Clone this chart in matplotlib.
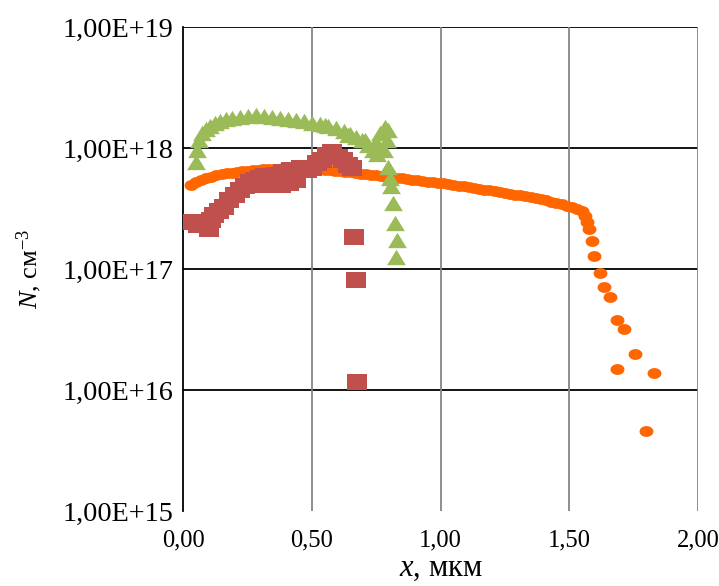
import numpy as np
import matplotlib
matplotlib.use("Agg")
import matplotlib.pyplot as plt
import matplotlib.path as mpath
from matplotlib.ticker import FixedLocator, FuncFormatter, NullLocator

plt.rcParams['font.family'] = ['Liberation Serif', 'DejaVu Serif']
plt.rcParams['mathtext.fontset'] = 'custom'
plt.rcParams['mathtext.rm'] = 'Liberation Serif'
plt.rcParams['mathtext.it'] = 'Liberation Serif:italic'

# ---- profile data: depth x (um), concentration N (cm^-3) ----
orange_x = [0.03, 0.05, 0.07, 0.09, 0.11, 0.13, 0.15, 0.17, 0.19, 0.21,
            0.23, 0.25, 0.27, 0.29, 0.31, 0.33, 0.35, 0.37, 0.39, 0.41,
            0.43, 0.45, 0.47, 0.49, 0.51, 0.53, 0.55, 0.57, 0.59, 0.61,
            0.63, 0.65, 0.67, 0.69, 0.71, 0.73, 0.75, 0.77, 0.79, 0.81,
            0.83, 0.85, 0.87, 0.89, 0.91, 0.93, 0.95, 0.97, 0.99, 1.01,
            1.03, 1.05, 1.07, 1.09, 1.11, 1.13, 1.15, 1.17, 1.19, 1.21,
            1.23, 1.25, 1.27, 1.29, 1.31, 1.33, 1.35, 1.37, 1.39, 1.41,
            1.43, 1.45, 1.47, 1.49, 1.51, 1.53, 1.55, 1.56, 1.57,
            1.575, 1.589, 1.597, 1.62, 1.636, 1.659, 1.686, 1.713, 1.756,
            1.686, 1.829, 1.798]
orange_n = [4.90e17, 5.19e17, 5.43e17, 5.62e17, 5.78e17, 5.93e17, 6.05e17, 6.17e17, 6.27e17, 6.35e17,
            6.43e17, 6.49e17, 6.55e17, 6.61e17, 6.65e17, 6.70e17, 6.73e17, 6.76e17, 6.78e17, 6.79e17,
            6.79e17, 6.78e17, 6.76e17, 6.73e17, 6.70e17, 6.65e17, 6.61e17, 6.55e17, 6.49e17, 6.43e17,
            6.35e17, 6.28e17, 6.21e17, 6.14e17, 6.07e17, 6.00e17, 5.93e17, 5.86e17, 5.79e17, 5.73e17,
            5.66e17, 5.60e17, 5.53e17, 5.47e17, 5.41e17, 5.35e17, 5.28e17, 5.22e17, 5.16e17, 5.09e17,
            5.02e17, 4.95e17, 4.89e17, 4.82e17, 4.75e17, 4.68e17, 4.60e17, 4.53e17, 4.46e17, 4.39e17,
            4.32e17, 4.25e17, 4.18e17, 4.11e17, 4.05e17, 3.98e17, 3.91e17, 3.84e17, 3.77e17, 3.69e17,
            3.61e17, 3.53e17, 3.44e17, 3.34e17, 3.24e17, 3.13e17, 2.99e17, 2.75e17, 2.45e17,
            2.14e17, 1.70e17, 1.28e17, 9.3e16, 7.1e16, 5.9e16, 3.8e16, 3.2e16, 2.0e16,
            1.5e16, 1.38e16, 4.6e15]

red_x = [0.04, 0.06, 0.08, 0.10, 0.11, 0.12, 0.14, 0.16, 0.18, 0.20,
         0.22, 0.24, 0.26, 0.28, 0.30, 0.31, 0.32, 0.34, 0.35, 0.36,
         0.38, 0.39, 0.41, 0.42, 0.44, 0.46, 0.48, 0.50, 0.52, 0.54,
         0.56, 0.58, 0.60, 0.62, 0.64, 0.655, 0.663, 0.671, 0.674]
red_n = [2.44e17, 2.30e17, 2.38e17, 2.14e17, 2.55e17, 2.79e17, 3.00e17, 3.25e17, 3.71e17, 4.09e17,
         4.50e17, 4.86e17, 5.24e17, 5.44e17, 5.65e17, 4.90e17, 5.87e17, 5.76e17, 4.90e17, 5.98e17,
         4.95e17, 6.34e17, 5.10e17, 6.58e17, 5.40e17, 6.84e17, 6.58e17, 6.84e17, 7.52e17, 7.96e17,
         8.76e17, 9.27e17, 8.43e17, 7.96e17, 7.24e17, 6.84e17, 1.84e17, 8.1e16, 1.16e16]

green_x = [0.050, 0.055, 0.062, 0.074, 0.090, 0.105, 0.124, 0.143, 0.167, 0.190,
           0.220, 0.252, 0.283, 0.314, 0.345, 0.376, 0.407, 0.438, 0.469, 0.500,
           0.531, 0.562, 0.593, 0.624, 0.647, 0.671, 0.694, 0.717, 0.736, 0.748,
           0.764, 0.783, 0.798, 0.791, 0.779, 0.795, 0.802, 0.806, 0.814, 0.822,
           0.833, 0.829, 0.55, 0.64, 0.705, 0.755]
green_n = [7.65e17, 9.62e17, 1.16e18, 1.33e18, 1.44e18, 1.52e18, 1.61e18, 1.67e18, 1.74e18, 1.77e18,
           1.80e18, 1.84e18, 1.86e18, 1.84e18, 1.80e18, 1.77e18, 1.74e18, 1.70e18, 1.67e18, 1.61e18,
           1.58e18, 1.52e18, 1.46e18, 1.38e18, 1.31e18, 1.23e18, 1.16e18, 1.06e18, 9.6e17, 1.12e18,
           1.33e18, 1.49e18, 1.41e18, 1.16e18, 9.6e17, 6.97e17, 5.65e17, 4.86e17, 3.51e17, 2.40e17,
           1.74e17, 1.26e17, 1.55e18, 1.28e18, 1.16e18, 9.0e17]

x_ticks = [0.0, 0.5, 1.0, 1.5, 2.0]
y_ticks = [1e15, 1e16, 1e17, 1e18, 1e19]

# ---- marker shapes ----
t = np.linspace(0, 2 * np.pi, 40)
ellipse_marker = mpath.Path(np.column_stack([np.cos(t), 0.78 * np.sin(t)]))
square_marker = mpath.Path([(-1, -0.82), (1, -0.82), (1, 0.82), (-1, 0.82), (-1, -0.82)], closed=True)
triangle_marker = mpath.Path([(0, 0.82), (-1, -0.82), (1, -0.82), (0, 0.82)], closed=True)

fig = plt.figure(figsize=(7.19, 5.86), dpi=100)
ax = fig.add_axes([183 / 719, 1 - 511 / 586, (698 - 183) / 719, (511 - 27) / 586])

ax.plot(orange_x, orange_n, linestyle='none', marker=ellipse_marker, markersize=10,
        color='#FF6600', markeredgewidth=0, zorder=3)
ax.plot(red_x, red_n, linestyle='none', marker=square_marker, markersize=14,
        color='#C0504D', markeredgewidth=0, zorder=4)
ax.plot(green_x, green_n, linestyle='none', marker=triangle_marker, markersize=13.5,
        color='#9BBB59', markeredgewidth=0, zorder=5)

ax.set_yscale('log')
ax.set_xlim(0, 2.0)
ax.set_ylim(1e15, 1e19)
ax.xaxis.set_major_locator(FixedLocator(x_ticks))
ax.yaxis.set_major_locator(FixedLocator(y_ticks))
ax.yaxis.set_minor_locator(NullLocator())
ax.xaxis.set_minor_locator(NullLocator())
ax.xaxis.set_major_formatter(FuncFormatter(lambda v, p: f"{v:.2f}".replace('.', ',')))
ax.yaxis.set_major_formatter(FuncFormatter(lambda v, p: f"1,00E+{int(round(np.log10(v))):02d}"))
ax.tick_params(axis='both', length=0)
ax.tick_params(axis='y', labelsize=20.3, pad=7)
ax.tick_params(axis='x', labelsize=17.7, pad=13)

for s in ['top', 'right', 'bottom']:
    ax.spines[s].set_visible(False)
ax.spines['left'].set_color('black')
ax.spines['left'].set_linewidth(1.3)

# grid: black horizontals at decades, grey verticals
for yv in y_ticks[1:]:
    ax.axhline(yv, color='black', linewidth=1.3, zorder=1)
for xv in x_ticks[1:]:
    ax.axvline(xv, color='#868686', linewidth=1.3, zorder=1)

ax.set_xlabel(r'$x$, мкм', fontsize=22, labelpad=2)
ax.set_ylabel(r'$N$, см$^{-3}$', fontsize=19, labelpad=13)

fig.savefig('out.png', dpi=100)
